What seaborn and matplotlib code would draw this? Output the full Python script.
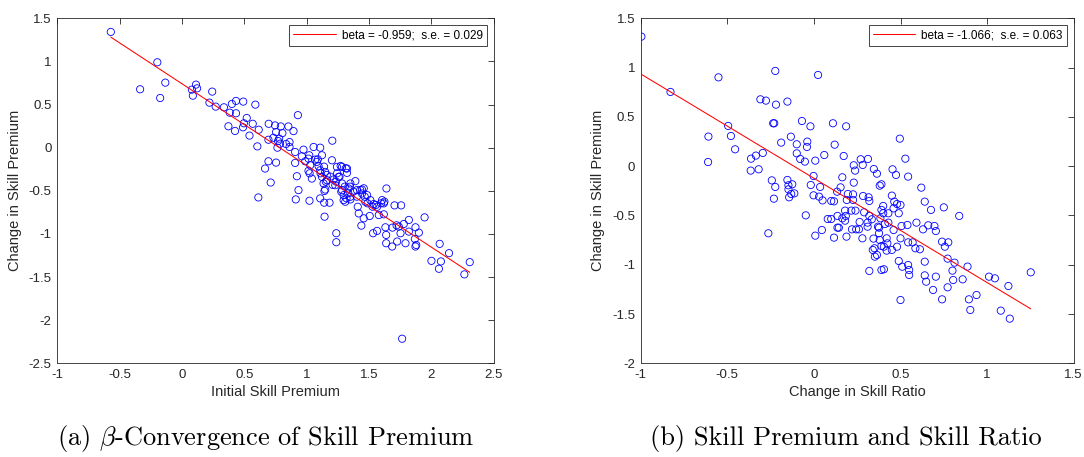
import numpy as np
import pandas as pd
import matplotlib
matplotlib.use("Agg")
import matplotlib.pyplot as plt
import seaborn as sns

# ---------------- data ----------------
left_x = [-0.571, -0.198, -0.336, -0.134, -0.175, 0.079, 0.087, 0.112, 0.121, 0.242, 0.220, 0.270,
          0.336, 0.383, 0.400, 0.433, 0.433, 0.491, 0.588, 0.372, 0.425, 0.519, 0.489, 0.496, 0.541,
          0.929, 0.567, 0.695, 0.746, 0.792, 0.853, 0.894, 0.615, 0.754, 0.805, 0.733, 0.693, 0.770,
          0.786, 0.862, 0.765, 0.862, 0.604, 1.205, 0.907, 0.974, 1.055, 1.108, 0.961, 1.014, 1.068,
          1.122, 1.202, 0.907, 0.988, 1.028, 1.081, 1.095, 0.693, 0.754, 0.666, 1.014, 1.108, 1.148,
          1.242, 1.283, 1.323, 0.921, 1.041, 1.122, 1.162, 1.216, 1.256, 1.323, 0.711, 1.135, 1.229,
          1.283, 1.350, 1.390, 0.934, 1.148, 1.283, 1.336, 1.403, 1.443, 1.639, 1.296, 1.350, 1.443,
          1.484, 1.510, 0.612, 0.912, 1.022, 1.108, 1.140, 1.183, 1.296, 1.309, 1.350, 1.409, 1.470,
          1.537, 1.604, 1.618, 1.564, 1.417, 1.457, 1.505, 1.578, 1.618, 1.143, 1.438, 1.532, 1.564,
          1.631, 1.704, 1.757, 1.237, 1.237, 1.637, 1.637, 1.685, 1.725, 1.738, 1.778, 1.819, 1.752,
          1.792, 1.819, 1.872, 1.899, 1.872, 1.945, 2.066, 2.141, 2.000, 2.076, 2.060, 2.264, 2.307,
          1.765, 1.142, 1.139, 1.111, 1.161, 1.153, 1.189, 1.208, 1.244, 1.272, 1.313, 1.236, 1.263,
          1.305, 1.277, 1.319, 1.333, 1.346, 1.374, 1.402, 1.429, 1.457, 1.465, 1.488, 1.527, 1.554,
          1.596, 1.623, 1.687, 1.720, 1.867, 1.878, 1.020, 1.089, 1.023, 0.834, 0.779]
left_y = [1.342, 0.990, 0.677, 0.754, 0.576, 0.673, 0.603, 0.731, 0.688, 0.650, 0.522, 0.476,
          0.468, 0.406, 0.507, 0.542, 0.399, 0.534, 0.499, 0.248, 0.194, 0.344, 0.236, 0.283, 0.140,
          0.377, 0.277, 0.277, 0.258, 0.246, 0.246, 0.192, 0.208, 0.181, 0.169, 0.115, 0.092, 0.077,
          0.046, 0.065, 0.000, 0.008, 0.015, 0.081, -0.050, -0.023, 0.008, 0.000, -0.100, -0.127, -0.138,
          -0.088, -0.146, -0.177, -0.158, -0.204, -0.165, -0.215, -0.158, -0.173, -0.242, -0.269, -0.262, -0.281,
          -0.223, -0.223, -0.242, -0.331, -0.358, -0.338, -0.377, -0.369, -0.338, -0.292, -0.404, -0.415, -0.435,
          -0.415, -0.415, -0.388, -0.492, -0.485, -0.492, -0.473, -0.492, -0.485, -0.473, -0.550, -0.569, -0.531,
          -0.550, -0.608, -0.577, -0.600, -0.615, -0.588, -0.638, -0.638, -0.608, -0.627, -0.600, -0.685, -0.627,
          -0.654, -0.608, -0.646, -0.685, -0.762, -0.819, -0.792, -0.781, -0.773, -0.800, -0.904, -0.992, -0.965,
          -0.923, -0.669, -0.669, -0.992, -1.096, -1.012, -1.108, -1.146, -1.088, -0.915, -0.885, -0.838, -0.992,
          -1.108, -0.973, -0.923, -0.985, -1.146, -0.808, -1.115, -1.223, -1.312, -1.319, -1.404, -1.469, -1.327,
          -2.215, -0.502, -0.220, -0.297, -0.316, -0.394, -0.336, -0.432, -0.297, -0.212, -0.239, -0.394, -0.336,
          -0.452, -0.510, -0.587, -0.529, -0.452, -0.510, -0.568, -0.490, -0.471, -0.568, -0.645, -0.684, -0.664,
          -0.645, -0.626, -0.927, -0.900, -1.058, -1.128, -0.088, -0.135, -0.297, 0.043, 0.105]

right_x = [-0.996, -0.828, -0.551, -0.223, 0.024, -0.309, -0.277, -0.219, -0.153, -0.495, -0.479, -0.609,
           -0.455, -0.611, -0.363, -0.335, -0.295, -0.365, -0.319, -0.235, -0.229, -0.069, -0.020, 0.110,
           0.186, -0.133, -0.189, -0.099, -0.038, -0.040, 0.120, -0.099, -0.079, -0.052, 0.008, 0.060,
           0.172, 0.496, 0.528, 0.230, 0.270, 0.312, 0.282, 0.238, 0.346, 0.364, 0.454, 0.474, 0.544,
           -0.243, -0.223, -0.231, -0.153, -0.147, -0.125, -0.147, -0.143, -0.131, -0.113, -0.263, -0.047,
           -0.002, -0.018, 0.036, -0.002, 0.030, 0.050, 0.100, 0.116, 0.164, 0.154, 0.134, 0.230, 0.196,
           0.226, 0.190, 0.226, 0.284, 0.316, 0.320, 0.180, 0.216, 0.240, 0.080, 0.100, 0.136, 0.164,
           0.184, 0.180, 0.136, 0.144, 0.046, 0.008, 0.116, 0.188, 0.220, 0.244, 0.260, 0.264, 0.280,
           0.290, 0.310, 0.310, 0.320, 0.334, 0.344, 0.350, 0.320, 0.340, 0.352, 0.364, 0.370, 0.376,
           0.380, 0.384, 0.390, 0.400, 0.400, 0.410, 0.376, 0.390, 0.404, 0.420, 0.420, 0.424, 0.430,
           0.430, 0.390, 0.404, 0.380, 0.390, 0.450, 0.464, 0.480, 0.500, 0.460, 0.490, 0.460, 0.450,
           0.480, 0.500, 0.506, 0.540, 0.490, 0.510, 0.544, 0.550, 0.550, 0.500, 0.544, 0.570, 0.586,
           0.592, 0.612, 0.620, 0.640, 0.630, 0.660, 0.676, 0.696, 0.704, 0.640, 0.640, 0.648, 0.704,
           0.688, 0.750, 0.740, 0.756, 0.776, 0.772, 0.812, 0.800, 0.804, 0.772, 0.740, 0.839, 0.887,
           0.859, 0.895, 0.903, 0.939, 1.011, 1.045, 1.079, 1.123, 1.131, 1.252]
right_y = [1.314, 0.753, 0.901, 0.966, 0.925, 0.678, 0.665, 0.624, 0.655, 0.408, 0.306, 0.300,
           0.171, 0.042, 0.076, 0.107, 0.134, -0.045, -0.032, 0.435, 0.435, 0.458, 0.404, 0.435,
           0.404, 0.299, 0.239, 0.222, 0.249, 0.195, 0.218, 0.130, 0.073, 0.046, 0.056, 0.113,
           0.103, 0.279, 0.076, 0.009, 0.070, 0.073, 0.012, -0.045, -0.029, -0.076, -0.032, -0.089, -0.106,
           -0.144, -0.211, -0.330, -0.140, -0.194, -0.184, -0.235, -0.316, -0.282, -0.276, -0.681, -0.499,
           -0.100, -0.191, -0.211, -0.296, -0.309, -0.347, -0.353, -0.357, -0.113, -0.215, -0.259, -0.167, -0.282,
           -0.286, -0.343, -0.343, -0.303, -0.316, -0.353, -0.451, -0.451, -0.451, -0.536, -0.536, -0.505, -0.529,
           -0.505, -0.553, -0.624, -0.624, -0.648, -0.705, -0.725, -0.715, -0.641, -0.641, -0.641, -0.566, -0.732,
           -0.468, -0.573, -0.614, -0.505, -0.539, -0.735, -0.833, -1.063, -0.850, -0.918, -0.901, -0.614, -0.681,
           -0.749, -0.529, -0.444, -0.404, -0.478, -0.587, -0.624, -0.810, -0.817, -0.732, -0.857, -0.783, -0.573,
           -0.478, -1.053, -1.046, -0.198, -0.184, -0.299, -0.360, -0.384, -0.394, -0.428, -0.478, -0.648, -0.850,
           -0.817, -0.732, -0.607, -0.597, -0.962, -1.020, -1.003, -1.053, -1.104, -1.358, -0.773, -0.773, -0.833,
           -0.573, -0.843, -0.218, -0.360, -0.641, -0.600, -0.444, -0.607, -0.658, -0.969, -1.108, -1.172, -1.121,
           -1.256, -0.418, -0.766, -0.817, -0.773, -0.938, -0.979, -1.060, -1.155, -1.229, -1.351, -0.505, -1.019,
           -1.148, -1.351, -1.459, -1.307, -1.121, -1.138, -1.466, -1.216, -1.547, -1.077]

left_xticks = [-1, -0.5, 0, 0.5, 1, 1.5, 2, 2.5]
left_xticklabels = ["-1", "-0.5", "0", "0.5", "1", "1.5", "2", "2.5"]
left_yticks = [-2.5, -2, -1.5, -1, -0.5, 0, 0.5, 1, 1.5]
left_yticklabels = ["-2.5", "-2", "-1.5", "-1", "-0.5", "0", "0.5", "1", "1.5"]
right_xticks = [-1, -0.5, 0, 0.5, 1, 1.5]
right_xticklabels = ["-1", "-0.5", "0", "0.5", "1", "1.5"]
right_yticks = [-2, -1.5, -1, -0.5, 0, 0.5, 1, 1.5]
right_yticklabels = ["-2", "-1.5", "-1", "-0.5", "0", "0.5", "1", "1.5"]

left_xlabel = "Initial Skill Premium"
right_xlabel = "Change in Skill Ratio"
ylabel_text = "Change in Skill Premium"
left_legend = "beta = -0.959;  s.e. = 0.029"
right_legend = "beta = -1.066;  s.e. = 0.063"
caption_a = r"(a) $\beta$-Convergence of Skill Premium"
caption_b = "(b) Skill Premium and Skill Ratio"

# ---------------- style ----------------
sns.set_theme(style="white")
plt.rcParams["font.family"] = ["Liberation Sans", "DejaVu Sans"]
plt.rcParams["axes.unicode_minus"] = False
plt.rcParams["mathtext.fontset"] = "cm"

W, H = 1084, 457
fig = plt.figure(figsize=(W / 100, H / 100), dpi=100)
fig.patch.set_facecolor("white")

ax1 = fig.add_axes([57.3 / W, (H - 363.3) / H, 436.5 / W, 345 / H])
ax2 = fig.add_axes([640.7 / W, (H - 363.3) / H, 433.0 / W, 345 / H])

AXC = "#262626"


def panel(ax, x, y, xt, xtl, yt, ytl, xlabel, leg, ylab_x):
    df = pd.DataFrame({"x": x, "y": y})
    sns.scatterplot(data=df, x="x", y="y", ax=ax, marker="o", s=27,
                    facecolor="none", edgecolor="#0000ff", linewidth=0.6,
                    legend=False, zorder=3)
    sns.regplot(data=df, x="x", y="y", ax=ax, scatter=False, ci=None,
                truncate=True, color="#ff0000", label=leg,
                line_kws=dict(lw=0.75, zorder=4))
    ax.set_xlim(xt[0], xt[-1])
    ax.set_ylim(yt[0], yt[-1])
    ax.set_xticks(xt)
    ax.set_xticklabels(xtl)
    ax.set_yticks(yt)
    ax.set_yticklabels(ytl)
    ax.tick_params(direction="in", top=True, right=True, length=4, width=0.6,
                   colors=AXC, labelsize=9.5, pad=4)
    for sp in ax.spines.values():
        sp.set_visible(True)
        sp.set_color(AXC)
        sp.set_linewidth(0.6)
    ax.set_xlabel(xlabel, fontsize=10.5, color=AXC, labelpad=3)
    ax.set_ylabel(ylabel_text, fontsize=10.5, color=AXC)
    ax.yaxis.set_label_coords(ylab_x, 0.5)
    lg = ax.legend(loc="upper right", fontsize=8.5, frameon=True, fancybox=False,
                   framealpha=1, edgecolor=AXC, handlelength=3.6, borderaxespad=0.6,
                   borderpad=0.35, handletextpad=0.5)
    lg.get_frame().set_linewidth(0.6)
    for t in lg.get_texts():
        t.set_color("black")
    ax.grid(False)


panel(ax1, left_x, left_y, left_xticks, left_xticklabels, left_yticks, left_yticklabels,
      left_xlabel, left_legend, -0.082)
panel(ax2, right_x, right_y, right_xticks, right_xticklabels, right_yticks, right_yticklabels,
      right_xlabel, right_legend, -0.082)

fig.text(266 / W, 1 - 439 / H, caption_a, ha="center", va="center",
         fontfamily="cmr10", fontsize=19, color="black")
fig.text(846 / W, 1 - 439 / H, caption_b, ha="center", va="center",
         fontfamily="cmr10", fontsize=19, color="black")

fig.savefig("out.png", dpi=100, facecolor="white")
